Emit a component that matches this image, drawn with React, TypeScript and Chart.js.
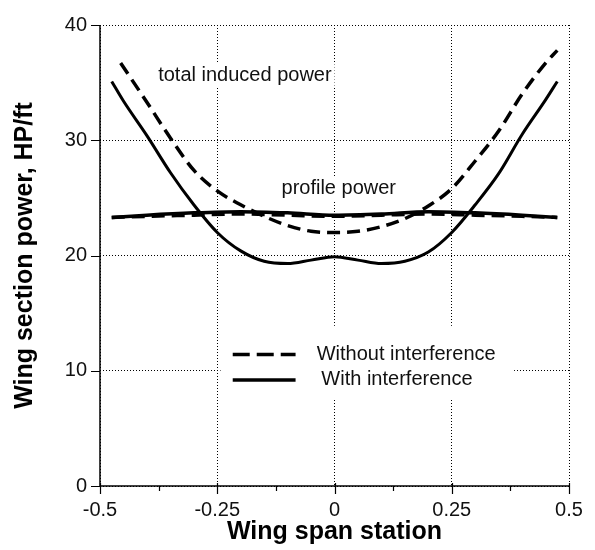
import React, { useEffect, useRef } from "react";
import { Chart, registerables } from "chart.js";

Chart.register(...registerables);

// ---- data ----
const withoutX = [-0.456, -0.4, -0.35, -0.3, -0.25, -0.2, -0.15, -0.1, -0.05, 0, 0.05, 0.1, 0.15, 0.2, 0.25, 0.3, 0.35, 0.4, 0.45, 0.475];
const withoutY = [36.7, 33.3, 30.2, 27.4, 25.6, 24.4, 23.4, 22.6, 22.1, 22.0, 22.1, 22.5, 23.2, 24.3, 25.8, 28.2, 30.8, 34.0, 36.7, 37.8];

const withX = [-0.475, -0.45, -0.4, -0.35, -0.3, -0.25, -0.2, -0.15, -0.1, -0.05, 0, 0.05, 0.1, 0.15, 0.2, 0.25, 0.3, 0.35, 0.4, 0.45, 0.475];
const withY = [35.1, 33.4, 30.4, 27.2, 24.4, 22.0, 20.4, 19.5, 19.3, 19.6, 19.9, 19.6, 19.3, 19.5, 20.3, 22.0, 24.4, 27.1, 30.5, 33.5, 35.1];

const profileX = [-0.475, -0.4, -0.3, -0.2, -0.1, 0, 0.1, 0.2, 0.3, 0.4, 0.475];
const profileWithY = [23.3, 23.5, 23.7, 23.8, 23.7, 23.5, 23.6, 23.8, 23.7, 23.5, 23.3];
const profileWithoutY = [23.3, 23.4, 23.5, 23.6, 23.5, 23.4, 23.5, 23.6, 23.5, 23.4, 23.3];

const xTicks = [-0.5, -0.25, 0, 0.25, 0.5];
const xMinorTicks = [-0.375, -0.125, 0.125, 0.375];
const yTicks = [0, 10, 20, 30, 40];

const seriesNames = ["Without interference", "With interference"];
const xTitle = "Wing span station";
const yTitle = "Wing section power, HP/ft";
const noteInduced = "total induced power";
const noteProfile = "profile power";

const FONT = "'Liberation Sans', Arial, Helvetica, sans-serif";

const pts = (xs: number[], ys: number[]) => xs.map((x, i) => ({ x, y: ys[i] }));

const decorPlugin = {
  id: "decor",
  beforeDatasetsDraw(chart: any) {
    const { ctx, scales } = chart;
    const xs = scales.x;
    const ys = scales.y;
    const px = (v: number) => xs.getPixelForValue(v);
    const py = (v: number) => ys.getPixelForValue(v);
    ctx.save();
    ctx.font = `20px ${FONT}`;
    ctx.textBaseline = "middle";
    ctx.textAlign = "left";

    {
      const x = px(-0.376), y = py(35.6);
      const w = ctx.measureText(noteInduced).width;
      ctx.fillStyle = "#fff";
      ctx.fillRect(x - 3, y - 12, w + 6, 24);
      ctx.fillStyle = "#111";
      ctx.fillText(noteInduced, x, y);
    }
    {
      const x = px(-0.113), y = py(25.8);
      const w = ctx.measureText(noteProfile).width;
      ctx.fillStyle = "#fff";
      ctx.fillRect(x - 3, y - 12, w + 6, 24);
      ctx.fillStyle = "#111";
      ctx.fillText(noteProfile, x, y);
    }
    {
      const x0 = px(-0.243), x1 = px(0.383), y0 = py(13.9), y1 = py(7.5);
      ctx.fillStyle = "#fff";
      ctx.fillRect(x0, y0, x1 - x0, y1 - y0);
      const lx0 = px(-0.217), lx1 = px(-0.083);
      const rows = [
        { y: py(11.4), tx: px(-0.038) },
        { y: py(9.2), tx: px(-0.028) },
      ];
      rows.forEach((r, i) => {
        ctx.beginPath();
        ctx.lineWidth = 3.5;
        ctx.strokeStyle = "#000";
        ctx.setLineDash(i === 0 ? [17, 7] : []);
        ctx.moveTo(lx0, r.y);
        ctx.lineTo(lx1, r.y);
        ctx.stroke();
        ctx.setLineDash([]);
        ctx.fillStyle = "#111";
        ctx.fillText(seriesNames[i], r.tx, r.y);
      });
    }
    ctx.restore();
  },
  afterDraw(chart: any) {
    const { ctx, scales, chartArea } = chart;
    const xs = scales.x;
    const ys = scales.y;
    ctx.save();
    ctx.strokeStyle = "#000";
    ctx.lineWidth = 1.5;
    ctx.setLineDash([]);
    ctx.beginPath();
    ctx.moveTo(chartArea.left, chartArea.top);
    ctx.lineTo(chartArea.left, chartArea.bottom);
    ctx.lineTo(chartArea.right, chartArea.bottom);
    ctx.stroke();
    ctx.lineWidth = 1.2;
    ctx.beginPath();
    xTicks.forEach((v) => {
      const x = Math.round(xs.getPixelForValue(v)) + 0.5;
      ctx.moveTo(x, chartArea.bottom - 3);
      ctx.lineTo(x, chartArea.bottom + 8);
    });
    xMinorTicks.forEach((v) => {
      const x = Math.round(xs.getPixelForValue(v)) + 0.5;
      ctx.moveTo(x, chartArea.bottom);
      ctx.lineTo(x, chartArea.bottom + 5);
    });
    yTicks.forEach((v) => {
      const y = Math.round(ys.getPixelForValue(v)) + 0.5;
      ctx.moveTo(chartArea.left - 9, y);
      ctx.lineTo(chartArea.left, y);
    });
    ctx.stroke();
    ctx.restore();
  },
};

export default function App() {
  const ref = useRef<HTMLCanvasElement | null>(null);
  useEffect(() => {
    if (!ref.current) return;
    const curve = {
      borderColor: "#000",
      pointRadius: 0,
      cubicInterpolationMode: "monotone" as const,
      fill: false,
    };
    const chart = new Chart(ref.current, {
      type: "line",
      data: {
        datasets: [
          { ...curve, label: seriesNames[0], data: pts(withoutX, withoutY), borderWidth: 3.5, borderDash: [13, 7] },
          { ...curve, label: seriesNames[1], data: pts(withX, withY), borderWidth: 3 },
          { ...curve, label: "profile without", data: pts(profileX, profileWithoutY), borderWidth: 3.5, borderDash: [13, 7] },
          { ...curve, label: "profile with", data: pts(profileX, profileWithY), borderWidth: 3.5 },
        ],
      },
      options: {
        responsive: false,
        animation: false,
        events: [],
        layout: { padding: { top: 18, right: 26, left: 0, bottom: 0 } },
        plugins: { legend: { display: false }, tooltip: { enabled: false } },
        scales: {
          x: {
            type: "linear",
            min: -0.5,
            max: 0.5,
            afterBuildTicks: (s: any) => {
              s.ticks = xTicks.map((v) => ({ value: v }));
            },
            afterFit: (s: any) => {
              s.height = 64;
            },
            ticks: {
              color: "#111",
              font: { family: FONT, size: 20 },
              padding: 12,
              maxRotation: 0,
              callback: (v: any) => String(v),
            },
            grid: { color: "#000", lineWidth: 1, drawTicks: false },
            border: { display: false, dash: [1, 2] },
            title: {
              display: true,
              text: xTitle,
              color: "#000",
              font: { family: FONT, size: 25, weight: "bold" },
              padding: { top: 0, bottom: 3 },
            },
          },
          y: {
            type: "linear",
            min: 0,
            max: 40,
            afterBuildTicks: (s: any) => {
              s.ticks = yTicks.map((v) => ({ value: v }));
            },
            afterFit: (s: any) => {
              s.width = 100;
            },
            ticks: {
              color: "#111",
              font: { family: FONT, size: 20 },
              padding: 13,
              callback: (v: any) => String(v),
            },
            grid: { color: "#000", lineWidth: 1, drawTicks: false },
            border: { display: false, dash: [1, 2] },
            title: {
              display: true,
              text: yTitle,
              color: "#000",
              font: { family: FONT, size: 25, weight: "bold" },
              padding: { top: 10, bottom: 0 },
            },
          },
        },
      },
      plugins: [decorPlugin],
    });
    return () => chart.destroy();
  }, []);
  return (
    <div style={{ position: "fixed", left: 0, top: 0, width: 595, height: 550, background: "#fff" }}>
      <canvas ref={ref} width={595} height={550} style={{ display: "block", width: 595, height: 550 }} />
    </div>
  );
}
